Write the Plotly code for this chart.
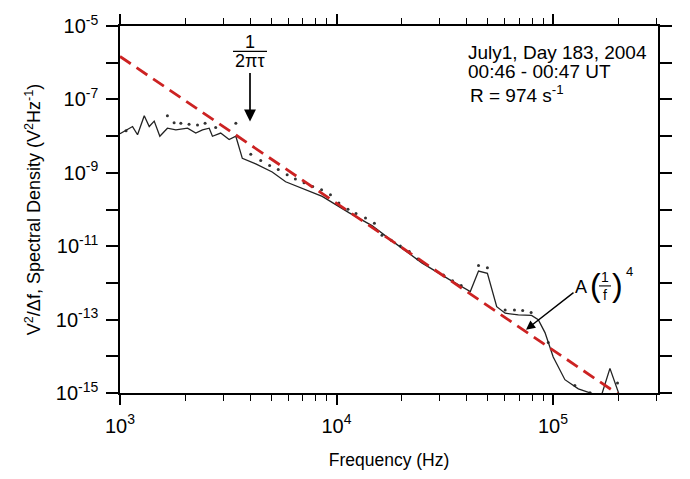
import numpy as np
import plotly.graph_objects as go

# ---- data (log10 values) ----
log_f_solid = [3.000, 3.028, 3.058, 3.081, 3.112, 3.135, 3.158, 3.184, 3.219, 3.258,
               3.312, 3.350, 3.381, 3.412, 3.427, 3.465, 3.504, 3.535, 3.565, 3.627,
               3.703, 3.765, 3.826, 3.934, 4.057, 4.164, 4.272, 4.394, 4.518, 4.618,
               4.656, 4.697, 4.740, 4.779, 4.840, 4.901, 4.932, 4.963, 5.001, 5.055,
               5.117, 5.171, 5.222, 5.263, 5.309]
log_s_solid = [-7.936, -7.830, -7.740, -7.963, -7.448, -7.740, -7.592, -8.005, -7.785, -7.830,
               -7.785, -7.918, -7.830, -7.785, -8.005, -7.918, -8.095, -8.005, -8.607, -8.759,
               -8.979, -9.244, -9.380, -9.642, -10.085, -10.438, -10.923, -11.454, -11.897, -12.233,
               -11.676, -11.737, -12.647, -12.825, -12.870, -12.886, -13.003, -13.355, -14.019, -14.637,
               -14.886, -14.992, -15.100, -14.329, -15.100]

log_f_dots = [3.028, 3.219, 3.250, 3.281, 3.319, 3.358, 3.393, 3.442, 3.535, 3.604,
              3.650, 3.691, 3.731, 3.772, 3.810, 3.850, 3.890, 3.931, 3.972, 4.011,
              4.053, 4.090, 4.134, 4.175, 4.210, 4.253, 4.295, 4.336, 4.376, 4.494,
              4.536, 4.576, 4.656, 4.697, 4.779, 4.822, 4.860, 4.899, 4.978, 5.101,
              5.171, 5.298]
log_s_dots = [-7.857, -7.448, -7.634, -7.653, -7.679, -7.698, -7.653, -7.767, -7.653, -8.493,
              -8.668, -8.801, -8.907, -9.050, -9.170, -9.270, -9.370, -9.464, -9.597, -9.820,
              -9.995, -10.111, -10.233, -10.377, -10.703, -10.836, -10.995, -11.146, -11.347, -11.782,
              -11.942, -12.074, -11.525, -11.586, -12.737, -12.737, -12.753, -12.806, -13.621, -14.796,
              -14.992, -14.727]

fit_log_A = 6.17      # A in S = A (1/f)^4
fit_power = 4
fit_freq = [1.0e3, 2.3e5]

x_major = [1e3, 1e4, 1e5]
x_major_text = ["10<sup>3</sup>", "10<sup>4</sup>", "10<sup>5</sup>"]
x_minor = [m * d for d in (1e3, 1e4, 1e5) for m in range(2, 10) if m * d <= 3e5]
y_ticks = [10.0 ** e for e in range(-15, -4)]
y_text = [("10<sup>%d</sup>" % e) if e % 2 else "" for e in range(-15, -4)]

f_solid = 10.0 ** np.array(log_f_solid)
s_solid = 10.0 ** np.array(log_s_solid)
f_dots = 10.0 ** np.array(log_f_dots)
s_dots = 10.0 ** np.array(log_s_dots)
f_fit = np.array(fit_freq)
s_fit = 10.0 ** fit_log_A * (1.0 / f_fit) ** fit_power

FONT = "Liberation Sans, Arial, Helvetica, sans-serif"

fig = go.Figure()
fig.add_trace(go.Scatter(x=f_dots, y=s_dots, mode="markers",
                         marker=dict(size=3, color="#333333"), showlegend=False, cliponaxis=True))
fig.add_trace(go.Scatter(x=f_solid, y=s_solid, mode="lines",
                         line=dict(color="#222222", width=1.3), showlegend=False))
fig.add_trace(go.Scatter(x=f_fit, y=s_fit, mode="lines",
                         line=dict(color="#cc2222", width=2.8, dash="13px,7px"), showlegend=False))

L, R, T, B = 120, 658, 20, 397
W, H = R - L, B - T


def px(x):
    return (x - L) / W


def py(y):
    return (B - y) / H


ann = []
# 1/(2 pi tau)
ann.append(dict(x=px(250), y=py(36), text="1", showarrow=False, font=dict(size=18)))
ann.append(dict(x=px(250), y=py(118), ax=0, ay=58 - 118, text="2πτ", showarrow=True,
                arrowhead=2, arrowsize=1.4, arrowwidth=1.7, arrowcolor="black",
                font=dict(size=18)))
# info text
ann.append(dict(x=px(466), y=py(47), text="July1, Day 183, 2004", showarrow=False,
                xanchor="left", font=dict(size=19)))
ann.append(dict(x=px(466), y=py(67), text="00:46 - 00:47 UT", showarrow=False,
                xanchor="left", font=dict(size=19)))
ann.append(dict(x=px(468), y=py(90), text="R = 974 s<sup>-1</sup>", showarrow=False,
                xanchor="left", font=dict(size=19)))
# A (1/f)^4
ann.append(dict(x=px(526), y=py(332), ax=581 - 526, ay=289 - 332, text="A", showarrow=True,
                arrowhead=2, arrowsize=1.3, arrowwidth=1.4, arrowcolor="black",
                font=dict(size=18)))
ann.append(dict(x=px(595), y=py(286), text="(", showarrow=False, font=dict(size=32)))
ann.append(dict(x=px(617), y=py(286), text=")", showarrow=False, font=dict(size=32)))
ann.append(dict(x=px(605), y=py(278), text="1", showarrow=False, font=dict(size=14)))
ann.append(dict(x=px(605), y=py(296), text="f", showarrow=False, font=dict(size=14)))
ann.append(dict(x=px(629), y=py(272), text="4", showarrow=False, font=dict(size=13)))
for a in ann:
    a.setdefault("xref", "paper")
    a.setdefault("yref", "paper")
    a.setdefault("xanchor", "center")
    a.setdefault("yanchor", "middle")

shapes = [
    dict(type="line", xref="paper", yref="paper", x0=px(233), x1=px(267), y0=py(46), y1=py(46),
         line=dict(color="black", width=1.3)),
    dict(type="line", xref="paper", yref="paper", x0=px(599), x1=px(611), y0=py(287), y1=py(287),
         line=dict(color="black", width=1.1)),
]

axis_common = dict(showline=True, linecolor="black", linewidth=1.5, mirror="ticks",
                   ticks="outside", tickcolor="black", tickwidth=1.5, showgrid=False,
                   zeroline=False, tickfont=dict(size=20, color="black"),
                   ticklabelstandoff=4)

fig.update_layout(
    width=690, height=479,
    margin=dict(l=L, r=690 - R, t=T, b=479 - B),
    paper_bgcolor="white", plot_bgcolor="white",
    font=dict(family=FONT, color="black"),
    xaxis=dict(type="log", range=[3, 5.485], tickmode="array", tickvals=x_major,
               ticktext=x_major_text, ticklen=10,
               minor=dict(tickmode="array", tickvals=x_minor, ticks="outside", ticklen=6,
                          tickcolor="black", tickwidth=1.3, showgrid=False),
               title=dict(text="Frequency (Hz)", font=dict(size=17.5), standoff=18),
               **axis_common),
    yaxis=dict(type="log", range=[-15, -5], tickmode="array", tickvals=y_ticks,
               ticktext=y_text, ticklen=12,
               title=dict(text="V<sup>2</sup>/Δf, Spectral Density (V<sup>2</sup>Hz<sup>-1</sup>)",
                          font=dict(size=18), standoff=10),
               **axis_common),
    annotations=ann, shapes=shapes,
)

fig.write_html("out.html")
